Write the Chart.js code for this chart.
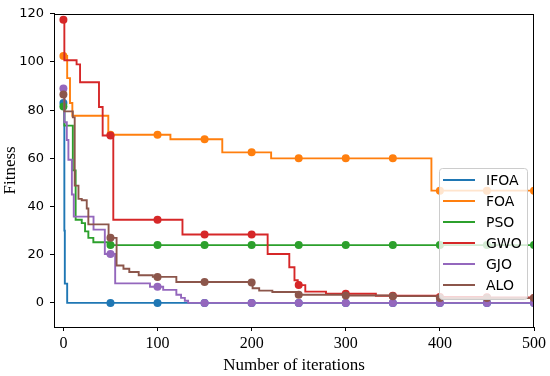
<!DOCTYPE html>
<html>
<head>
<meta charset="utf-8">
<script src="https://cdn.jsdelivr.net/npm/chart.js@4.4.1/dist/chart.umd.min.js"></script>
<style>
  html, body { margin: 0; padding: 0; background: #fff; }
  canvas { display: block; }
</style>
</head>
<body>
<canvas class="js-chart" width="550" height="376"></canvas>
<script>
// step curves: [iteration, best fitness from that iteration on]
const names = ['IFOA', 'FOA', 'PSO', 'GWO', 'GJO', 'ALO'];
const colors = ['#1f77b4', '#ff7f0e', '#2ca02c', '#d62728', '#9467bd', '#8c564b'];

const ifoa = [[0, 83], [1, 30], [1.5, 8], [4, 0], [50, 0], [100, 0], [150, 0], [200, 0], [250, 0],
  [300, 0], [350, 0], [400, 0], [450, 0], [500, 0]];
const foa = [[0, 102.5], [4, 93.3], [7, 83], [9.5, 77.7], [47.7, 69.8], [50, 69.8], [100, 69.8],
  [113.7, 67.9], [150, 67.9], [168.8, 62.5], [200, 62.5], [220.7, 60], [250, 60], [300, 60],
  [350, 60], [391, 46.6], [400, 46.6], [450, 46.6], [500, 46.6]];
const pso = [[0, 81.5], [1, 73.6], [10, 55], [13, 34.5], [19.5, 33.1], [23, 29.7], [26.5, 27],
  [31.8, 25.2], [48, 24], [50, 24], [100, 24], [150, 24], [200, 24], [250, 24], [300, 24],
  [350, 24], [400, 24], [450, 24], [500, 24]];
const gwo = [[0, 117.5], [1, 100.7], [14, 99], [17.7, 91.6], [37.8, 81.3], [41.7, 69.5], [50, 69.5],
  [53, 34.5], [100, 34.5], [126.5, 28.4], [150, 28.4], [200, 28.4], [217, 20.3], [240, 14.8],
  [245.5, 9.4], [249, 8.1], [250, 7.4], [257, 4.7], [279, 3.8], [300, 3.8], [332, 3], [350, 3],
  [400, 2.5], [450, 2.3], [500, 2]];
const gjo = [[0, 89], [1, 75], [3.6, 67.6], [5.3, 59.4], [9, 45], [11, 35.8], [32, 30.4], [44, 20.3],
  [50, 20.3], [55, 8.1], [92, 6.7], [100, 6.7], [106, 5.4], [120, 3.4], [125, 2.1], [129, 0.9],
  [132.5, 0], [150, 0], [200, 0], [250, 0], [300, 0], [350, 0], [400, 0], [450, 0], [500, 0]];
const alo = [[0, 86.5], [1, 79.5], [10, 77], [12, 48.7], [16, 43.2], [19.5, 42.6], [24.8, 39.2],
  [26.5, 32.6], [48, 27], [50, 27], [56.5, 15.5], [63.8, 14.2], [70, 12.8], [80, 11.5], [95, 10.8],
  [100, 10.8], [120, 8.7], [150, 8.7], [200, 8.5], [201, 6.1], [208, 5.1], [222, 4.5], [250, 3.4],
  [300, 3.1], [350, 2.8], [400, 2], [450, 2], [500, 2]];

const xTicks = [0, 100, 200, 300, 400, 500];
const yTicks = [0, 20, 40, 60, 80, 100, 120];

const series = [ifoa, foa, pso, gwo, gjo, alo];
const serif = '"Liberation Serif", "Times New Roman", serif';
const sans = '"DejaVu Sans", sans-serif';

const frameAndLegend = {
  id: 'frameAndLegend',
  afterDatasetsDraw(chart) {
    const c = chart.ctx;
    const a = chart.chartArea;
    c.save();
    c.strokeStyle = '#000';
    c.lineWidth = 1;
    c.strokeRect(Math.round(a.left) + 0.5, Math.round(a.top) + 0.5,
      Math.round(a.right - a.left) - 1, Math.round(a.bottom - a.top));

    // legend box, lower right inside the axes
    const bx = 439, by = 168, bw = 88, bh = 131;
    c.beginPath();
    c.roundRect(bx + 0.5, by + 0.5, bw, bh, 3);
    c.fillStyle = 'rgba(255,255,255,0.8)';
    c.fill();
    c.strokeStyle = '#cccccc';
    c.stroke();
    c.font = '14px ' + sans;
    c.textBaseline = 'middle';
    names.forEach((n, i) => {
      const yy = by + 12 + i * 21;
      c.strokeStyle = colors[i];
      c.lineWidth = 2;
      c.beginPath();
      c.moveTo(bx + 4, yy);
      c.lineTo(bx + 36, yy);
      c.stroke();
      c.fillStyle = '#000';
      c.fillText(n, bx + 47, yy + 1);
    });
    c.restore();
  }
};

const ctx = document.querySelector('.js-chart').getContext('2d');

const fitnessChart = new Chart(ctx, {
  type: 'line',
  data: {
    datasets: series.map((s, i) => ({
      label: names[i],
      data: s.map(([x, y]) => ({ x, y })),
      borderColor: colors[i],
      backgroundColor: colors[i],
      borderWidth: 1.9,
      stepped: 'before',
      fill: false,
      pointRadius: (c) => (c.raw && c.raw.x % 50 === 0 ? 4 : 0),
      pointBorderWidth: 0,
      pointHoverRadius: 0,
      order: names.length - i,
      clip: 0
    }))
  },
  options: {
    responsive: false,
    animation: false,
    events: [],
    layout: { padding: { left: 0, right: 16, top: 8, bottom: 0 } },
    plugins: {
      legend: { display: false },
      tooltip: { enabled: false }
    },
    scales: {
      x: {
        type: 'linear',
        min: -10,
        max: 500,
        afterBuildTicks: (s) => { s.ticks = xTicks.map(v => ({ value: v })); },
        afterFit: (s) => { s.height = 49; },
        grid: { drawOnChartArea: false, tickLength: 4, tickColor: '#000', tickWidth: 1 },
        border: { color: '#000', width: 1 },
        ticks: { color: '#000', padding: 3, maxRotation: 0, font: { family: serif, size: 16 } },
        title: {
          display: true,
          text: 'Number of iterations',
          color: '#000',
          padding: { top: 0, bottom: 0 },
          font: { family: serif, size: 17 }
        }
      },
      y: {
        min: -10,
        max: 120,
        afterBuildTicks: (s) => { s.ticks = yTicks.map(v => ({ value: v })); },
        afterFit: (s) => { s.width = 54; },
        grid: { drawOnChartArea: false, tickLength: 4, tickColor: '#000', tickWidth: 1 },
        border: { color: '#000', width: 1 },
        ticks: { color: '#000', padding: 6, font: { family: sans, size: 13 } },
        title: {
          display: true,
          text: 'Fitness',
          color: '#000',
          padding: { top: 0, bottom: 0 },
          font: { family: serif, size: 17 }
        }
      }
    }
  },
  plugins: [frameAndLegend]
});
</script>
</body>
</html>
